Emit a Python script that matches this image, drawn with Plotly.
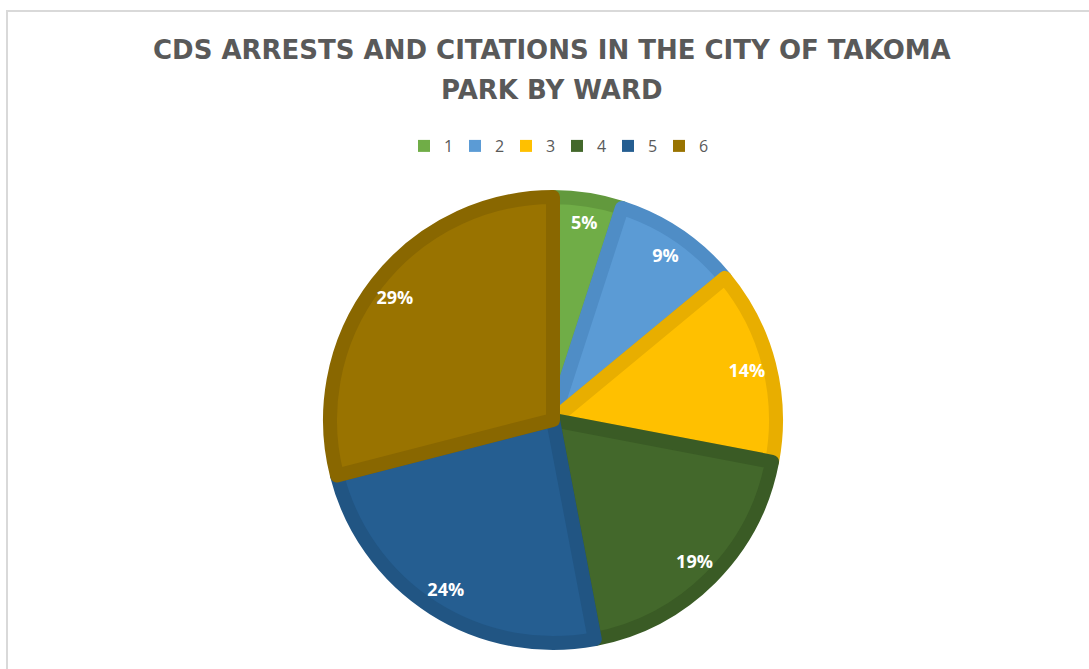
import plotly.graph_objects as go

# Share of CDS arrests and citations by ward (percent)
wards = ["1", "2", "3", "4", "5", "6"]
shares = [5, 9, 14, 19, 24, 29]
fill_colors = ["#70AD47", "#5B9BD5", "#FFC000", "#43682B", "#255E91", "#997300"]
edge_colors = ["#62993D", "#4F8DC6", "#E8AE00", "#3A5B25", "#215583", "#896700"]
title_lines = ["CDS ARRESTS AND CITATIONS IN THE CITY OF TAKOMA", "PARK BY WARD"]

W, H = 1089, 669
cx, cy, r_outer = 553, 420, 230
border_w = 7
r_pie = r_outer - border_w


def px_x(v):
    return v / W


def px_y(v):
    return 1 - v / H


pie_domain = dict(x=[px_x(cx - r_pie), px_x(cx + r_pie)], y=[px_y(cy + r_pie), px_y(cy - r_pie)])
outer_domain = dict(x=[px_x(cx - r_outer), px_x(cx + r_outer)], y=[px_y(cy + r_outer), px_y(cy - r_outer)])
common = dict(labels=wards, values=shares, sort=False, direction="clockwise", rotation=0)

fig = go.Figure()

# Plain slices underneath: they supply the legend swatches
fig.add_trace(go.Pie(
    **common,
    marker=dict(colors=fill_colors, line=dict(width=0)),
    textinfo="none",
    hoverinfo="skip",
    domain=pie_domain,
    showlegend=True,
))

# Slices with darker rim
fig.add_trace(go.Pie(
    **common,
    marker=dict(colors=fill_colors, line=dict(color=edge_colors, width=border_w * 2)),
    textinfo="none",
    hoverinfo="label+percent",
    domain=pie_domain,
    showlegend=False,
))

# Percentage labels placed on a transparent ring near the rim
fig.add_trace(go.Pie(
    **common,
    hole=0.74,
    marker=dict(colors=["rgba(0,0,0,0)"] * len(wards), line=dict(width=0)),
    texttemplate="%{value}%",
    textposition="inside",
    insidetextorientation="horizontal",
    textfont=dict(family="Open Sans", size=18, color="white", weight="bold"),
    hoverinfo="skip",
    domain=outer_domain,
    showlegend=False,
))

title_font = dict(family="DejaVu Sans", size=26, color="#595959", weight="bold")
annotations = [
    dict(text=line, xref="paper", yref="paper", x=px_x(552), y=px_y(yy),
         xanchor="center", yanchor="middle", showarrow=False, font=title_font)
    for line, yy in zip(title_lines, [50, 90])
]

fig.update_layout(
    width=W,
    height=H,
    margin=dict(l=0, r=0, t=0, b=0),
    paper_bgcolor="white",
    plot_bgcolor="white",
    annotations=annotations,
    legend=dict(
        orientation="h",
        x=px_x(557),
        xanchor="center",
        y=px_y(146),
        yanchor="middle",
        font=dict(family="Open Sans", size=16, color="#595959"),
        entrywidth=6,
        itemwidth=30,
        traceorder="normal",
    ),
    shapes=[
        dict(type="rect", xref="paper", yref="paper",
             x0=px_x(7), y0=px_y(11), x1=1.2, y1=-0.2,
             line=dict(color="#D9D9D9", width=2), fillcolor="rgba(0,0,0,0)", layer="below"),
    ],
)

fig.write_html("out.html")
